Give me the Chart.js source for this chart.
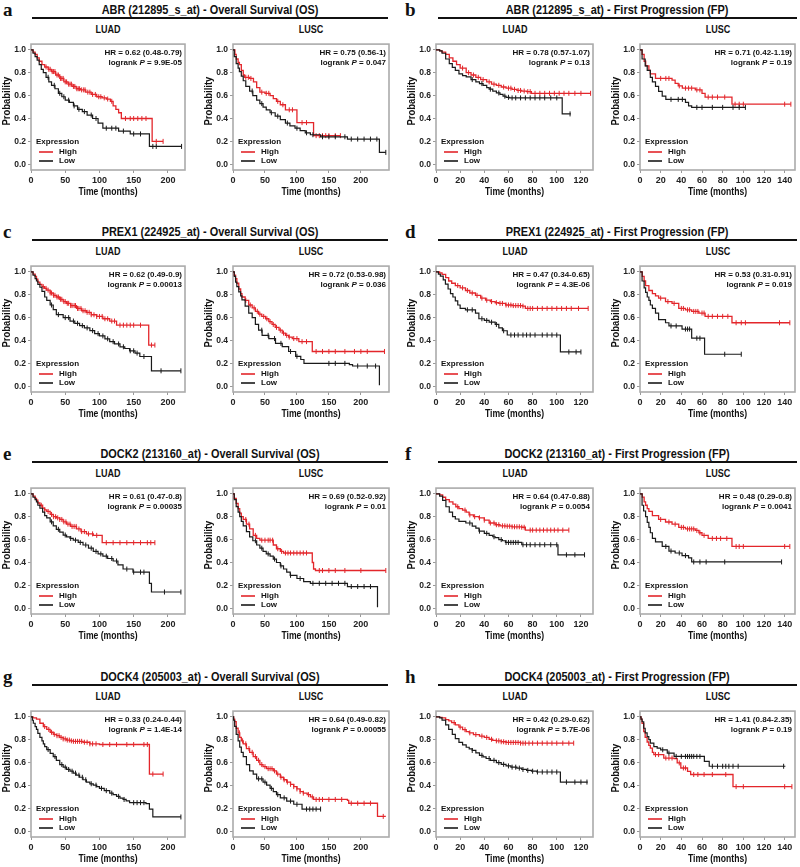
<!DOCTYPE html>
<html>
<head>
<meta charset="utf-8">
<title>Kaplan-Meier plots</title>
<script src="https://cdn.jsdelivr.net/npm/chart.js@4.4.1/dist/chart.umd.min.js"></script>
<style>
  body { margin: 0; background: #fff; }
  #page { position: relative; width: 800px; height: 867px; overflow: hidden; font-family: "Liberation Sans", Arial, sans-serif; color: #111; }
  .letter { position: absolute; font: bold 19px "Liberation Serif", "Times New Roman", serif; line-height: 19px; }
  .title { position: absolute; font-weight: bold; font-size: 13px; line-height: 15px; white-space: nowrap; transform: translate(-50%, -50%) scaleX(0.84); }
  .rule { position: absolute; height: 2px; background: #111; }
  .sub { position: absolute; font-weight: bold; font-size: 11px; line-height: 13px; transform: translate(-50%, -50%) scaleX(0.82); }
  canvas { position: absolute; }
</style>
</head>
<body>
<div id="page"></div>
<script>
// ---- data: step points [months, survival] and censor times (months) ----

// a: ABR OS
const aLuadHigh = [[0,1],[3,0.98],[6,0.96],[9,0.93],[12,0.90],[16,0.87],[20,0.85],[25,0.83],[30,0.81],[36,0.78],[42,0.75],[48,0.72],[54,0.70],[60,0.68],[66,0.66],[72,0.65],[80,0.63],[88,0.61],[96,0.59],[104,0.58],[110,0.57],[116,0.55],[120,0.51],[124,0.48],[128,0.45],[132,0.40],[177,0.20],[193,0.20]];
const aLuadHighCens = [22,26,28,31,33,35,38,40,43,45,47,50,52,55,57,59,62,64,67,69,71,74,77,79,83,86,90,94,99,102,107,112,118,138,145,150,156,162,168,183,193];
const aLuadLow = [[0,1],[3,0.97],[6,0.94],[9,0.91],[12,0.87],[15,0.83],[18,0.80],[22,0.76],[26,0.72],[30,0.69],[35,0.66],[40,0.62],[45,0.59],[50,0.56],[56,0.54],[62,0.51],[68,0.48],[75,0.46],[82,0.43],[90,0.40],[98,0.36],[105,0.315],[128,0.29],[145,0.265],[173,0.156],[220,0.156]];
const aLuadLowCens = [25,34,42,48,55,63,70,78,88,95,110,118,124,135,150,160,178,183,220];
const aLuscHigh = [[0,1],[3,0.96],[5,0.92],[8,0.89],[10,0.87],[13,0.82],[16,0.78],[18,0.76],[26,0.75],[32,0.72],[37,0.67],[42,0.63],[50,0.62],[58,0.60],[63,0.574],[68,0.55],[74,0.52],[82,0.476],[100,0.364],[126,0.25],[168,0.25]];
const aLuscHighCens = [20,24,28,45,52,56,70,78,88,93,108,115,130,135,140,145,150,160,168];
const aLuscLow = [[0,1],[2,0.94],[5,0.88],[8,0.84],[10,0.81],[13,0.77],[16,0.73],[20,0.68],[26,0.64],[31,0.60],[37,0.56],[42,0.53],[47,0.50],[52,0.475],[58,0.45],[66,0.42],[74,0.39],[82,0.36],[89,0.336],[97,0.315],[105,0.294],[113,0.275],[121,0.258],[137,0.24],[179,0.22],[229,0.104],[239,0.104]];
const aLuscLowCens = [30,45,60,70,85,100,115,125,140,150,160,175,185,195,205,215,225,239];

// b: ABR FP
const bLuadHigh = [[0,1],[3,0.99],[5,0.98],[8,0.96],[11,0.93],[14,0.90],[17,0.87],[20,0.84],[25,0.80],[29,0.78],[33,0.76],[37,0.74],[42,0.72],[46,0.70],[50,0.69],[54,0.675],[58,0.665],[63,0.655],[67,0.645],[71,0.64],[75,0.635],[79,0.62],[128,0.62]];
const bLuadHighCens = [22,27,31,35,39,44,48,52,56,60,62,65,68,70,73,76,78,82,86,90,94,98,102,106,110,115,120,128];
const bLuadLow = [[0,1],[3,0.99],[5,0.97],[8,0.92],[11,0.88],[13.5,0.846],[16,0.82],[19,0.79],[22,0.775],[25,0.763],[29,0.74],[33,0.72],[36,0.705],[39,0.69],[42,0.67],[44,0.656],[47,0.64],[50,0.623],[53,0.61],[55.5,0.595],[58,0.585],[61,0.58],[104.5,0.44],[111.6,0.44]];
const bLuadLowCens = [30,38,45,52,57,60,63,66,70,74,78,82,86,90,95,100,111];
const bLuscHigh = [[0,1],[2,0.96],[4,0.90],[5.5,0.86],[8.6,0.82],[10,0.79],[15,0.75],[31,0.735],[34,0.707],[37,0.685],[41,0.665],[53.5,0.65],[60,0.62],[63,0.587],[89,0.525],[146,0.525]];
const bLuscHighCens = [20,25,28,38,44,47,50,55,58,66,70,75,82,92,96,100,140,146];
const bLuscLow = [[0,1],[2,0.92],[5,0.86],[7,0.82],[10,0.76],[12,0.72],[15,0.68],[18,0.637],[21.5,0.595],[25,0.567],[44,0.54],[47,0.51],[50,0.497],[102,0.497]];
const bLuscLowCens = [30,37,41,55,60,70,80,90,96,102];

// c: PREX1 OS
const cLuadHigh = [[0,1],[3,0.98],[6,0.96],[8,0.935],[10,0.91],[13,0.89],[16,0.87],[20,0.855],[23,0.84],[28,0.815],[32.5,0.795],[37,0.78],[42,0.76],[47,0.74],[52,0.725],[58,0.705],[66.5,0.68],[74,0.66],[81,0.646],[88,0.625],[96,0.61],[105,0.59],[115,0.57],[125,0.534],[172,0.36],[181,0.36]];
const cLuadHighCens = [18,22,25,28,30,33,35,38,40,43,45,48,50,53,55,58,60,63,65,68,70,73,76,79,82,85,88,92,96,100,104,108,112,118,122,130,135,140,145,150,160,176,181];
const cLuadLow = [[0,1],[3,0.97],[6,0.94],[8,0.92],[10,0.89],[13,0.865],[16,0.83],[20,0.78],[23,0.75],[28,0.71],[32.5,0.67],[37,0.626],[47,0.60],[57,0.57],[64,0.55],[71,0.53],[78,0.51],[86,0.486],[93,0.46],[100,0.44],[108,0.415],[115,0.39],[122,0.37],[130,0.345],[137,0.33],[144,0.31],[152,0.29],[159,0.26],[176,0.135],[219,0.135]];
const cLuadLowCens = [30,40,50,55,62,68,75,82,90,98,105,112,120,128,135,145,150,155,165,190,219];
const cLuscHigh = [[0,1],[2,0.97],[4,0.94],[6,0.90],[9,0.85],[12,0.81],[14,0.78],[19,0.75],[24.6,0.71],[30,0.685],[35,0.655],[40,0.63],[45,0.61],[51,0.59],[56,0.565],[61,0.54],[66,0.515],[72,0.49],[77,0.465],[82,0.445],[87,0.43],[92.7,0.417],[103,0.39],[124,0.304],[237,0.304]];
const cLuscHighCens = [20,27,33,38,42,48,53,58,63,68,74,79,84,88,95,100,108,115,130,140,150,160,175,190,200,210,237];
const cLuscLow = [[0,1],[2,0.96],[4,0.91],[6,0.87],[9,0.825],[12,0.79],[14,0.755],[19,0.70],[24.6,0.64],[30,0.60],[35,0.54],[40,0.49],[45.5,0.445],[56,0.417],[66.5,0.375],[77,0.346],[87,0.304],[98,0.262],[106,0.234],[111,0.20],[182,0.19],[187,0.177],[229,0.01]];
const cLuscLowCens = [45,55,65,75,90,100,150,160,175,195,210,223];

// d: PREX1 FP
const dLuadHigh = [[0,1],[3,0.99],[5,0.977],[8,0.95],[10.5,0.92],[13,0.90],[16,0.88],[20,0.86],[24.4,0.837],[28,0.815],[32.7,0.794],[37,0.77],[41,0.752],[45,0.74],[49,0.73],[52,0.724],[57.6,0.71],[63,0.705],[71.5,0.70],[74,0.68],[126,0.68]];
const dLuadHighCens = [18,22,26,30,34,38,42,46,50,53,55,58,60,62,64,66,68,70,72,76,78,80,84,88,92,96,100,104,108,112,118,126];
const dLuadLow = [[0,1],[2,0.98],[3.6,0.963],[6,0.93],[7.8,0.893],[10,0.85],[12,0.81],[14,0.78],[16,0.746],[18,0.71],[20,0.68],[24.4,0.668],[32.7,0.64],[35.5,0.59],[40,0.575],[44,0.56],[49,0.54],[52,0.51],[55,0.485],[59,0.448],[103,0.30],[120,0.30]];
const dLuadLowCens = [26,30,38,42,46,50,56,62,65,68,72,75,78,82,88,92,96,100,110,116,120];
const dLuscHigh = [[0,1],[2.2,0.96],[4,0.92],[5.4,0.88],[8.6,0.837],[12,0.81],[15,0.79],[18,0.77],[24.7,0.74],[31,0.724],[37.5,0.68],[44,0.668],[50,0.654],[57,0.64],[63,0.611],[89,0.555],[145,0.555]];
const dLuscHighCens = [20,27,33,40,42,46,48,52,54,56,60,62,66,70,75,80,85,93,98,102,135,145];
const dLuscLow = [[0,1],[2,0.92],[4,0.86],[5.4,0.82],[7,0.78],[8.6,0.75],[10,0.71],[12,0.68],[15,0.64],[18,0.583],[24.7,0.555],[28,0.527],[40.7,0.50],[50,0.42],[62.5,0.28],[98,0.28]];
const dLuscLowCens = [30,35,44,46,48,55,58,82,98];

// e: DOCK2 OS
const eLuadHigh = [[0,1],[3,0.98],[6,0.96],[8,0.944],[10,0.92],[13,0.90],[17,0.875],[20,0.86],[23,0.846],[28,0.82],[32.5,0.80],[37,0.79],[42,0.776],[47,0.755],[52,0.735],[58,0.715],[66.5,0.693],[73,0.67],[81,0.65],[91,0.637],[104,0.573],[181,0.573]];
const eLuadHighCens = [15,20,25,30,33,36,39,42,45,48,51,54,57,60,63,66,70,74,78,84,90,96,110,120,130,140,150,160,170,175,181];
const eLuadLow = [[0,1],[3,0.97],[6,0.95],[8,0.93],[10,0.90],[13,0.874],[17,0.84],[20,0.81],[23,0.79],[28,0.755],[32.5,0.72],[37,0.69],[42,0.665],[47,0.64],[52,0.623],[57,0.61],[61.7,0.595],[69,0.575],[76,0.553],[84,0.525],[91,0.497],[98,0.475],[105,0.455],[112,0.435],[120,0.413],[127,0.38],[134.5,0.343],[149,0.316],[173,0.218],[176,0.142],[219,0.142]];
const eLuadLowCens = [30,40,50,58,65,72,80,88,95,102,110,118,125,140,150,160,165,195,219];
const eLuscHigh = [[0,1],[2,0.96],[5,0.916],[8,0.87],[10.5,0.832],[13,0.80],[16,0.776],[21,0.735],[26,0.693],[31.6,0.637],[37,0.61],[42,0.595],[63,0.553],[68,0.52],[74,0.497],[79,0.483],[124,0.40],[126,0.343],[129,0.33],[239,0.33]];
const eLuscHighCens = [20,25,35,45,50,55,58,62,70,76,82,86,90,95,100,105,110,115,135,140,150,160,175,200,239];
const eLuscLow = [[0,1],[2,0.95],[5,0.888],[8,0.84],[10.5,0.80],[13,0.76],[16,0.72],[21,0.67],[26,0.623],[31,0.59],[37,0.553],[42,0.525],[47,0.497],[52,0.475],[58,0.455],[63,0.43],[68,0.40],[74,0.37],[79,0.343],[84,0.315],[89.5,0.288],[100,0.26],[110.5,0.232],[121,0.218],[179,0.19],[226,0.01]];
const eLuscLowCens = [35,45,55,65,75,90,105,125,135,145,155,165,175,185,195,205,215];

// f: DOCK2 FP
const fLuadHigh = [[0,1],[3,0.99],[5.5,0.97],[8,0.95],[11,0.93],[14,0.91],[16.4,0.887],[19,0.87],[22,0.858],[25,0.84],[27.4,0.816],[31,0.80],[35.6,0.79],[40,0.77],[44,0.745],[49,0.73],[53,0.72],[57.5,0.717],[63,0.712],[71,0.708],[74,0.683],[110,0.683]];
const fLuadHighCens = [18,24,28,32,36,40,45,48,50,52,55,57,59,61,63,65,67,69,71,73,78,80,83,86,89,92,95,98,101,105,110];
const fLuadLow = [[0,1],[3,0.98],[5.5,0.943],[8.2,0.887],[11,0.84],[13.7,0.80],[16,0.78],[19,0.76],[24.7,0.745],[30,0.717],[33,0.70],[35.6,0.674],[40,0.655],[44,0.637],[47,0.625],[49,0.617],[52,0.60],[55,0.59],[57.5,0.575],[71,0.555],[101,0.467],[123,0.467]];
const fLuadLowCens = [28,36,42,48,54,58,60,62,64,66,68,72,75,78,82,86,90,95,100,108,115,123];
const fLuscHigh = [[0,1],[2.2,0.972],[4,0.93],[5.4,0.90],[7,0.87],[8.6,0.846],[12,0.81],[18,0.776],[24.7,0.754],[31,0.735],[37.5,0.707],[44,0.693],[53.5,0.68],[57,0.66],[60,0.637],[66,0.61],[89,0.54],[145,0.54]];
const fLuscHighCens = [20,28,34,40,42,46,48,50,52,55,58,62,70,74,78,84,93,96,100,140,145];
const fLuscLow = [[0,1],[2,0.90],[3.5,0.85],[5.4,0.80],[7,0.75],[8.6,0.707],[10,0.66],[12,0.61],[15,0.58],[21.5,0.54],[28,0.50],[34,0.483],[40.7,0.46],[47,0.44],[50,0.405],[137,0.405]];
const fLuscLowCens = [25,30,38,44,52,58,64,82,137];

// g: DOCK4 OS
const gLuadHigh = [[0,1],[3,0.99],[8,0.98],[13,0.944],[18,0.915],[23,0.89],[28,0.865],[32.5,0.847],[37,0.835],[42,0.82],[47,0.807],[52,0.797],[57,0.79],[61.7,0.786],[76,0.778],[86,0.764],[100,0.758],[173,0.50],[193,0.50]];
const gLuadHighCens = [20,26,30,34,38,41,44,47,50,53,56,59,62,65,68,71,74,78,82,86,90,95,105,115,125,140,150,165,170,178,193];
const gLuadLow = [[0,1],[2,0.97],[3.4,0.944],[6,0.915],[8,0.89],[10,0.855],[13,0.82],[16,0.79],[18,0.764],[20,0.74],[23,0.714],[28,0.68],[32.5,0.653],[37,0.62],[42,0.583],[47,0.56],[52,0.54],[57,0.525],[61.7,0.508],[66,0.49],[71,0.472],[76,0.45],[81,0.43],[86,0.415],[91,0.403],[96,0.39],[100,0.375],[107,0.355],[115,0.333],[120,0.32],[125,0.305],[130,0.29],[134.5,0.278],[139,0.265],[144,0.25],[168,0.242],[173,0.194],[178,0.125],[219,0.125]];
const gLuadLowCens = [25,35,45,50,55,60,65,70,75,80,88,95,103,110,118,128,136,150,155,160,165,219];
const gLuscHigh = [[0,1],[1,0.98],[2.6,0.958],[5,0.90],[8,0.86],[10.5,0.82],[13,0.79],[16,0.764],[21,0.722],[26,0.69],[31.6,0.653],[37,0.62],[42,0.583],[47,0.565],[52.6,0.547],[63,0.528],[68,0.50],[74,0.472],[79,0.45],[84,0.43],[90,0.41],[95,0.39],[100,0.37],[105,0.347],[110,0.333],[116,0.32],[121,0.30],[126,0.278],[179,0.27],[181,0.245],[226,0.13],[239,0.13]];
const gLuscHighCens = [10,15,20,25,30,35,40,45,50,55,58,61,65,70,75,80,85,90,95,100,105,110,118,124,130,135,140,150,160,170,185,195,205,215,235];
const gLuscLow = [[0,1],[1,0.97],[2.6,0.917],[5,0.847],[8,0.79],[10.5,0.736],[13,0.69],[16,0.653],[21,0.583],[26,0.528],[31.6,0.50],[37,0.458],[47,0.43],[52.6,0.403],[58,0.375],[63,0.347],[68,0.32],[74,0.292],[84,0.264],[95,0.236],[108,0.194],[137,0.194]];
const gLuscLowCens = [40,45,50,60,70,80,90,100,115,120,125,130,137];

// h: DOCK4 FP
const hLuadHigh = [[0,1],[3,0.995],[5,0.99],[8,0.975],[10.6,0.964],[13,0.95],[16,0.93],[19,0.91],[22,0.888],[25,0.87],[27.5,0.86],[31,0.845],[36,0.832],[40,0.82],[44,0.804],[47,0.795],[50,0.79],[54,0.782],[58,0.776],[70,0.77],[114,0.77]];
const hLuadHighCens = [15,20,24,28,33,38,42,46,50,52,54,56,58,60,62,64,66,68,70,72,74,77,80,84,88,92,96,100,105,110,114];
const hLuadLow = [[0,1],[3,0.99],[5,0.972],[8,0.93],[10.5,0.89],[13.5,0.846],[16,0.81],[19,0.776],[22,0.755],[25,0.734],[27.5,0.72],[30,0.706],[33,0.685],[36,0.664],[39,0.65],[41.5,0.636],[45,0.62],[50,0.60],[54,0.585],[58,0.571],[62,0.56],[67,0.552],[71,0.54],[75,0.532],[79,0.525],[83.5,0.518],[103,0.43],[125.6,0.43]];
const hLuadLowCens = [30,38,44,48,52,56,60,63,66,69,72,76,80,84,88,92,96,100,108,115,120,125];
const hLuscHigh = [[0,1],[1,0.98],[2,0.942],[3.6,0.87],[5,0.82],[6.9,0.78],[8.5,0.75],[10,0.726],[12,0.69],[13.4,0.67],[23,0.64],[33,0.634],[36,0.597],[39.5,0.553],[46,0.524],[49,0.496],[90,0.39],[147,0.39]];
const hLuscHighCens = [15,18,25,28,31,38,42,44,52,56,62,70,83,93,100,140,147];
const hLuscLow = [[0,1],[1,0.98],[2,0.957],[3.6,0.90],[5,0.86],[6.9,0.827],[8.5,0.80],[10,0.77],[13.4,0.74],[16.6,0.726],[20,0.712],[26.4,0.683],[33,0.654],[62.3,0.61],[67,0.568],[140.7,0.568]];
const hLuscLowCens = [22,28,35,40,44,46,48,50,52,55,58,70,75,80,83,86,90,95,139];

// labels
const genes = ['ABR (212895_s_at)', 'PREX1 (224925_at)', 'DOCK2 (213160_at)', 'DOCK4 (205003_at)'];
const endpoints = ['Overall Survival (OS)', 'First Progression (FP)'];
const panelLetters = ['a', 'b', 'c', 'd', 'e', 'f', 'g', 'h'];
const cohorts = ['LUAD', 'LUSC'];
const hrLabels = [
  'HR = 0.62 (0.48-0.79)', 'HR = 0.75 (0.56-1)', 'HR = 0.78 (0.57-1.07)', 'HR = 0.71 (0.42-1.19)',
  'HR = 0.62 (0.49-0.9)', 'HR = 0.72 (0.53-0.98)', 'HR = 0.47 (0.34-0.65)', 'HR = 0.53 (0.31-0.91)',
  'HR = 0.61 (0.47-0.8)', 'HR = 0.69 (0.52-0.92)', 'HR = 0.64 (0.47-0.88)', 'HR = 0.48 (0.29-0.8)',
  'HR = 0.33 (0.24-0.44)', 'HR = 0.64 (0.49-0.82)', 'HR = 0.42 (0.29-0.62)', 'HR = 1.41 (0.84-2.35)'
];
const pLabels = [
  '9.9E-05', '0.047', '0.13', '0.19',
  '0.00013', '0.036', '4.3E-06', '0.019',
  '0.00035', '0.01', '0.0054', '0.0041',
  '1.4E-14', '0.00055', '5.7E-06', '0.19'
];
const osTicks = [0, 50, 100, 150, 200];
const fpLuadTicks = [0, 20, 40, 60, 80, 100, 120];
const fpLuscTicks = [0, 20, 40, 60, 80, 100, 120, 140];
const yTicks = [0, 0.2, 0.4, 0.6, 0.8, 1.0];

const curves = [
  [aLuadHigh, aLuadHighCens, aLuadLow, aLuadLowCens], [aLuscHigh, aLuscHighCens, aLuscLow, aLuscLowCens],
  [bLuadHigh, bLuadHighCens, bLuadLow, bLuadLowCens], [bLuscHigh, bLuscHighCens, bLuscLow, bLuscLowCens],
  [cLuadHigh, cLuadHighCens, cLuadLow, cLuadLowCens], [cLuscHigh, cLuscHighCens, cLuscLow, cLuscLowCens],
  [dLuadHigh, dLuadHighCens, dLuadLow, dLuadLowCens], [dLuscHigh, dLuscHighCens, dLuscLow, dLuscLowCens],
  [eLuadHigh, eLuadHighCens, eLuadLow, eLuadLowCens], [eLuscHigh, eLuscHighCens, eLuscLow, eLuscLowCens],
  [fLuadHigh, fLuadHighCens, fLuadLow, fLuadLowCens], [fLuscHigh, fLuscHighCens, fLuscLow, fLuscLowCens],
  [gLuadHigh, gLuadHighCens, gLuadLow, gLuadLowCens], [gLuscHigh, gLuscHighCens, gLuscLow, gLuscLowCens],
  [hLuadHigh, hLuadHighCens, hLuadLow, hLuadLowCens], [hLuscHigh, hLuscHighCens, hLuscLow, hLuscLowCens]
];

// ---- layout ----
const rowTop = [0, 222, 444, 667];
const boxX = [[31, 185], [233, 389], [436, 593], [640, 795]];
const xMax = [225, 244, 130, 150];
const xTickSets = [osTicks, osTicks, fpLuadTicks, fpLuscTicks];
const groupLayout = [
  { letter: 3, title: 210, rule: [32, 388] },
  { letter: 405, title: 617, rule: [438, 797] }
];
const RED = '#e3262b';
const BLACK = '#1a1a1a';
const FONT = '"Liberation Sans", Arial, sans-serif';
const page = document.getElementById('page');

function addDiv(cls, text, left, top, width) {
  const d = document.createElement('div');
  d.className = cls;
  if (text) d.textContent = text;
  d.style.left = left + 'px';
  d.style.top = top + 'px';
  if (width) d.style.width = width + 'px';
  page.appendChild(d);
  return d;
}

// survival value of a step curve at time t (for placing censor ticks)
function survAt(curve, t) {
  let s = curve[0][1];
  for (const [ct, cs] of curve) {
    if (ct <= t) s = cs; else break;
  }
  return s;
}

const kmDecor = {
  id: 'kmDecor',
  beforeDatasetsDraw(chart) {
    const { ctx, chartArea: a } = chart;
    ctx.save();
    ctx.strokeStyle = '#ababab';
    ctx.lineWidth = 1.6;
    ctx.strokeRect(a.left, a.top, a.right - a.left, a.bottom - a.top);
    ctx.restore();
  },
  afterDraw(chart, args, opts) {
    const { ctx, chartArea: a } = chart;
    ctx.save();
    ctx.fillStyle = '#111';
    ctx.textBaseline = 'middle';

    // HR + logrank
    ctx.font = 'bold 8px ' + FONT;
    ctx.textAlign = 'right';
    ctx.fillText(opts.hr, a.right - 3, a.top + 9);
    const tail = ' = ' + opts.p;
    const tailW = ctx.measureText(tail).width;
    ctx.fillText(tail, a.right - 3, a.top + 19);
    ctx.font = 'italic bold 8px ' + FONT;
    const pW = ctx.measureText('P').width;
    ctx.fillText('P', a.right - 3 - tailW, a.top + 19);
    ctx.font = 'bold 8px ' + FONT;
    ctx.fillText('logrank ', a.right - 3 - tailW - pW, a.top + 19);

    // legend
    ctx.textAlign = 'left';
    ctx.fillText('Expression', a.left + 5, a.bottom - 28);
    ctx.lineWidth = 1.6;
    ctx.strokeStyle = RED;
    ctx.beginPath(); ctx.moveTo(a.left + 8, a.bottom - 18); ctx.lineTo(a.left + 22, a.bottom - 18); ctx.stroke();
    ctx.strokeStyle = BLACK;
    ctx.beginPath(); ctx.moveTo(a.left + 8, a.bottom - 9); ctx.lineTo(a.left + 22, a.bottom - 9); ctx.stroke();
    ctx.fillText('High', a.left + 28, a.bottom - 18);
    ctx.fillText('Low', a.left + 28, a.bottom - 9);

    // axis titles (slightly condensed like the source figure)
    ctx.textAlign = 'center';
    ctx.font = 'bold 10.5px ' + FONT;
    ctx.save();
    ctx.translate((a.left + a.right) / 2, a.bottom + 22);
    ctx.scale(0.82, 1);
    ctx.fillText('Time (months)', 0, 0);
    ctx.restore();
    ctx.font = 'bold 10.5px ' + FONT;
    ctx.translate(7, (a.top + a.bottom) / 2 - 6);
    ctx.rotate(-Math.PI / 2);
    ctx.scale(0.9, 1);
    ctx.fillText('Probability', 0, 0);
    ctx.restore();
  }
};

const PAD_T = 3, PAD_R = 5, Y_W = 31, X_H = 29;

panelLetters.forEach((letter, p) => {
  const row = Math.floor(p / 2);
  const group = p % 2;
  const y0 = rowTop[row];
  const g = groupLayout[group];
  addDiv('letter', letter, g.letter, y0);
  addDiv('title', genes[row] + ' - ' + endpoints[group], g.title, y0 + 9);
  addDiv('rule', '', g.rule[0], y0 + 17, g.rule[1] - g.rule[0]);

  cohorts.forEach((cohort, k) => {
    const idx = p * 2 + k;
    const col = group * 2 + k;
    const [bl, br] = boxX[col];
    const bt = y0 + 40, bb = y0 + 170;
    addDiv('sub', cohort, (bl + br) / 2, y0 + 29);

    const canvas = document.createElement('canvas');
    const w = (br - bl) + Y_W + PAD_R;
    const h = (bb - bt) + PAD_T + X_H;
    canvas.width = w; canvas.height = h;
    canvas.style.left = (bl - Y_W) + 'px';
    canvas.style.top = (bt - PAD_T) + 'px';
    canvas.style.width = w + 'px';
    canvas.style.height = h + 'px';
    page.appendChild(canvas);

    const [hi, hiCens, lo, loCens] = curves[idx];
    const toPts = c => c.map(([t, s]) => ({ x: t, y: s }));
    const cens = (c, times) => times.map(t => ({ x: t, y: survAt(c, t) }));
    const xt = xTickSets[col];

    new Chart(canvas.getContext('2d'), {
      type: 'line',
      data: {
        datasets: [
          { data: toPts(lo), borderColor: BLACK, borderWidth: 1.2, stepped: 'before', pointRadius: 0, fill: false },
          { data: cens(lo, loCens), showLine: false, pointStyle: 'line', rotation: 90, pointRadius: 2.5, borderColor: BLACK, borderWidth: 1 },
          { data: toPts(hi), borderColor: RED, borderWidth: 1.3, stepped: 'before', pointRadius: 0, fill: false },
          { data: cens(hi, hiCens), showLine: false, pointStyle: 'line', rotation: 90, pointRadius: 2.5, borderColor: RED, borderWidth: 1 }
        ]
      },
      options: {
        responsive: false,
        animation: false,
        events: [],
        layout: { padding: { top: PAD_T, right: PAD_R, left: 0, bottom: 0 } },
        plugins: {
          legend: { display: false },
          tooltip: { enabled: false },
          kmDecor: { hr: hrLabels[idx], p: pLabels[idx] }
        },
        scales: {
          x: {
            type: 'linear', min: 0, max: xMax[col],
            afterBuildTicks: s => { s.ticks = xt.map(v => ({ value: v })); },
            afterFit: s => { s.height = X_H; },
            ticks: { autoSkip: false, maxRotation: 0, padding: 2, color: '#222', font: { family: FONT, size: 9, weight: 'bold' } },
            grid: { drawOnChartArea: false, tickLength: 3, color: '#999' },
            border: { display: false }
          },
          y: {
            type: 'linear', min: -0.05, max: 1.05,
            afterBuildTicks: s => { s.ticks = yTicks.map(v => ({ value: v })); },
            afterFit: s => { s.width = Y_W; },
            ticks: { padding: 2, color: '#222', callback: v => v.toFixed(1), font: { family: FONT, size: 8.5, weight: 'bold' } },
            grid: { drawOnChartArea: false, tickLength: 3, color: '#999' },
            border: { display: false }
          }
        }
      },
      plugins: [kmDecor]
    });
  });
});
</script>
</body>
</html>
